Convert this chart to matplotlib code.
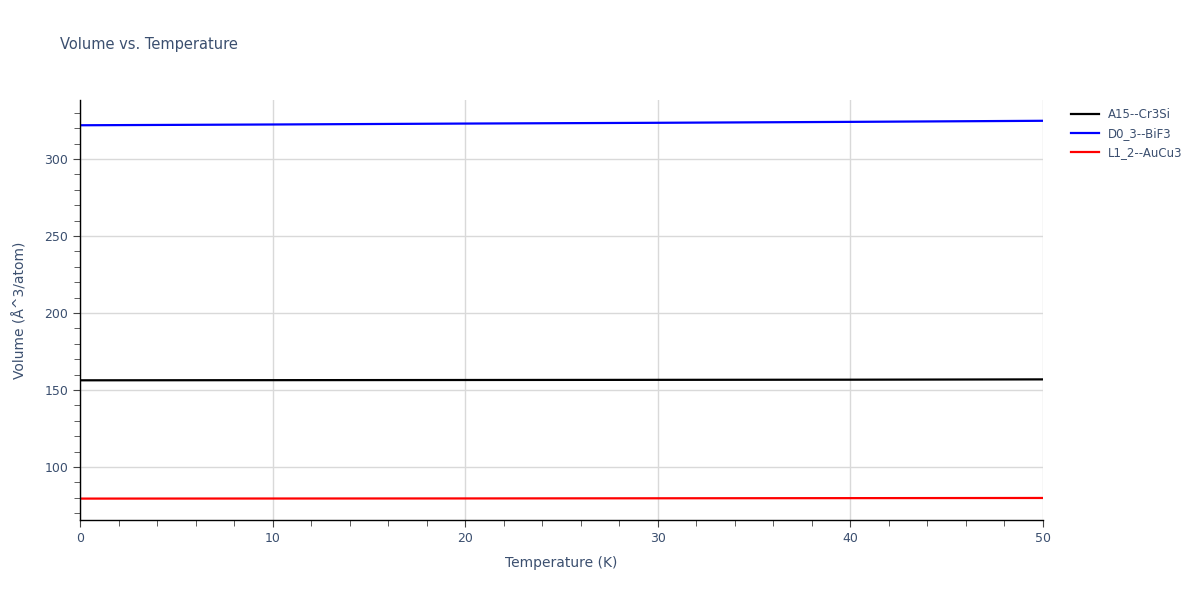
import matplotlib
matplotlib.use("Agg")
import matplotlib.pyplot as plt
from matplotlib.ticker import MultipleLocator

plt.rcParams['font.family'] = ['DejaVu Sans']

# data
temperature = [0, 10, 20, 30, 40, 50]
vol_a15 = [156.3, 156.4, 156.5, 156.6, 156.7, 156.9]
vol_d03 = [321.9, 322.4, 323.0, 323.5, 324.1, 324.8]
vol_l12 = [79.5, 79.55, 79.6, 79.7, 79.8, 79.9]

names = ["A15--Cr3Si", "D0_3--BiF3", "L1_2--AuCu3"]
colors = ["black", "blue", "red"]
txt = "#3b4f6f"

fig = plt.figure(figsize=(12, 6), dpi=100)
ax = fig.add_axes([80 / 1200, 80 / 600, (1043 - 80) / 1200, 420 / 600])

for vals, name, c in zip([vol_a15, vol_d03, vol_l12], names, colors):
    ax.plot(temperature, vals, color=c, lw=1.6, label=name)

ax.set_xlim(0, 50)
ax.set_ylim(65.6, 338.3)
ax.xaxis.set_major_locator(MultipleLocator(10))
ax.xaxis.set_minor_locator(MultipleLocator(2))
ax.yaxis.set_major_locator(MultipleLocator(50))
ax.yaxis.set_minor_locator(MultipleLocator(10))
ax.grid(True, which='major', color='#d9d9d9', lw=1)
ax.set_axisbelow(True)

for s in ['top', 'right']:
    ax.spines[s].set_visible(False)
for s in ['left', 'bottom']:
    ax.spines[s].set_color('black')
    ax.spines[s].set_linewidth(1)

ax.tick_params(which='both', direction='out', colors='#444444', labelcolor=txt, labelsize=9)
ax.tick_params(which='major', length=5)
ax.tick_params(which='minor', length=4)

ax.set_xlabel("Temperature (K)", color=txt, fontsize=10, labelpad=8)
ax.set_ylabel("Volume (Å^3/atom)", color=txt, fontsize=10, labelpad=12)

fig.text(60 / 1200, 1 - 45 / 600, "Volume vs. Temperature", color=txt, fontsize=10.5, va='center')

leg = ax.legend(loc='upper left', bbox_to_anchor=(1.02, 1.0), frameon=False,
                fontsize=8.5, handlelength=2.4, labelcolor=txt, borderaxespad=0.3)

fig.savefig("out.png", dpi=100)
